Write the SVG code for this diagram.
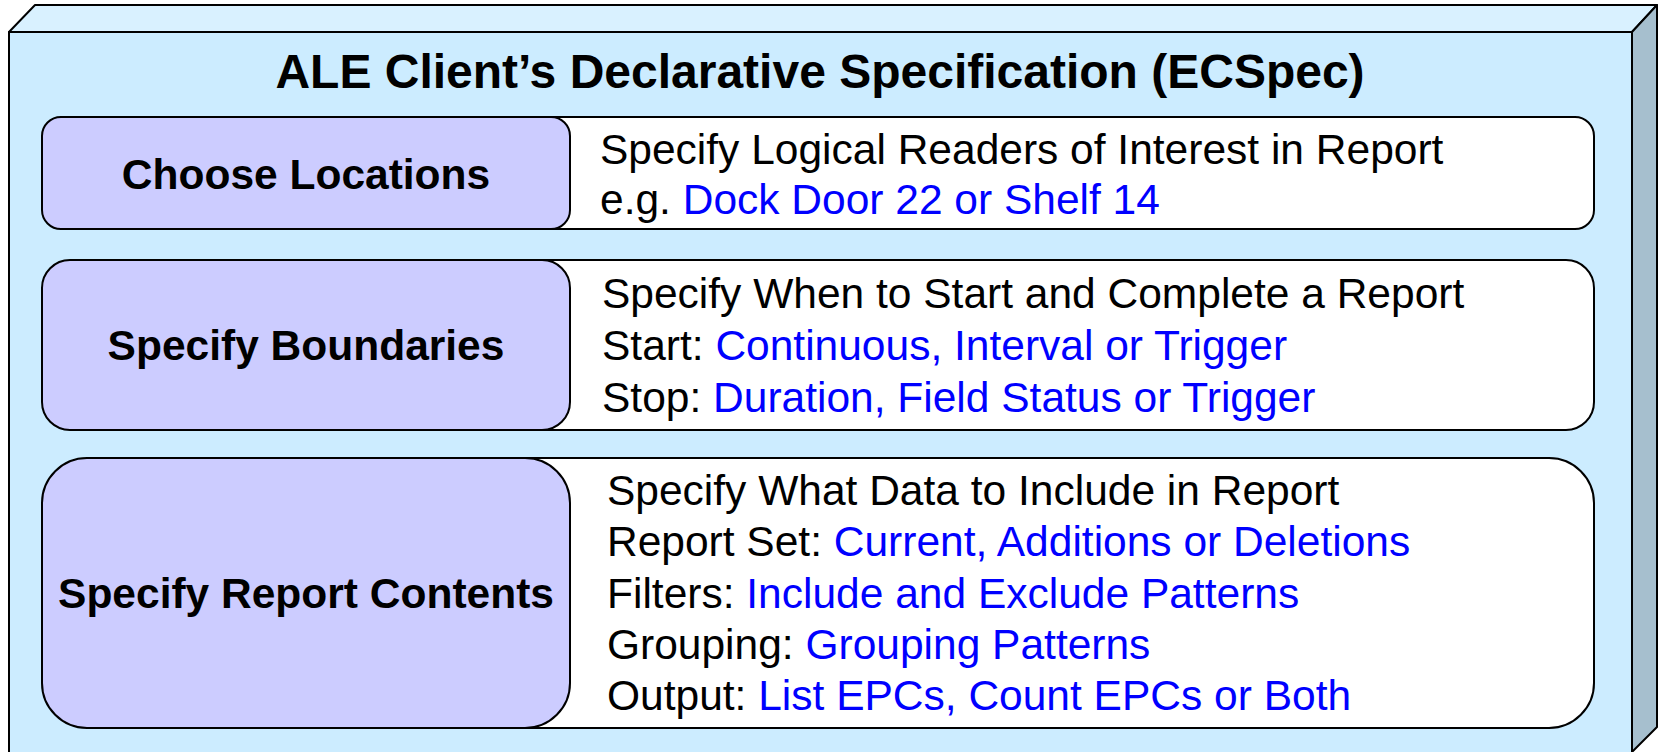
<svg xmlns="http://www.w3.org/2000/svg" width="1663" height="752" viewBox="0 0 1663 752">
  <style>
    .edge { stroke: #000; stroke-width: 2; stroke-linejoin: round; }
    .label { font-family: "Liberation Sans", Arial, sans-serif; font-weight: bold; font-size: 42.5px; fill: #000; text-anchor: middle; }
    .body { font-family: "Liberation Sans", Arial, sans-serif; font-size: 42.5px; fill: #000; }
    .hl { fill: #0000FF; }
    .title { font-family: "Liberation Sans", Arial, sans-serif; font-weight: bold; font-size: 48px; fill: #000; text-anchor: middle; }
    .step { fill: #CCCCFF; }
    .detail { fill: #FFFFFF; }
  </style>

  <!-- 3D slab holding the specification -->
  <g id="slab">
    <polygon class="edge" points="9,32 35,5 1657,5 1632,32" fill="#D9F1FF"/>
    <polygon class="edge" points="1632,32 1657,5 1657,727 1632,752" fill="#A6BFCE"/>
    <rect class="edge" x="9" y="32" width="1623" height="730" fill="#CCECFF"/>
    <text class="title" x="820" y="88">ALE Client’s Declarative Specification (ECSpec)</text>
  </g>

  <g id="choose-locations">
    <rect class="edge detail" x="300" y="117" width="1294" height="112" rx="19" ry="19"/>
    <rect class="edge step" x="42" y="117" width="528" height="112" rx="19" ry="19"/>
    <text class="label" x="306" y="189">Choose Locations</text>
    <text class="body" x="600" y="164">Specify Logical Readers of Interest in Report</text>
    <text class="body" x="600" y="214">e.g. <tspan class="hl">Dock Door 22 or Shelf 14</tspan></text>
  </g>

  <g id="specify-boundaries">
    <rect class="edge detail" x="300" y="260" width="1294" height="170" rx="28" ry="28"/>
    <rect class="edge step" x="42" y="260" width="528" height="170" rx="28" ry="28"/>
    <text class="label" x="306" y="360">Specify Boundaries</text>
    <text class="body" x="602" y="308">Specify When to Start and Complete a Report</text>
    <text class="body" x="602" y="360">Start: <tspan class="hl">Continuous, Interval or Trigger</tspan></text>
    <text class="body" x="602" y="412">Stop: <tspan class="hl">Duration, Field Status or Trigger</tspan></text>
  </g>

  <g id="specify-report-contents">
    <rect class="edge detail" x="300" y="458" width="1294" height="270" rx="45" ry="45"/>
    <rect class="edge step" x="42" y="458" width="528" height="270" rx="45" ry="45"/>
    <text class="label" x="306" y="608">Specify Report Contents</text>
    <text class="body" x="607" y="505">Specify What Data to Include in Report</text>
    <text class="body" x="607" y="556">Report Set: <tspan class="hl">Current, Additions or Deletions</tspan></text>
    <text class="body" x="607" y="608">Filters: <tspan class="hl">Include and Exclude Patterns</tspan></text>
    <text class="body" x="607" y="659">Grouping: <tspan class="hl">Grouping Patterns</tspan></text>
    <text class="body" x="607" y="710">Output: <tspan class="hl">List EPCs, Count EPCs or Both</tspan></text>
  </g>

  <g id="connectors"/>
</svg>
